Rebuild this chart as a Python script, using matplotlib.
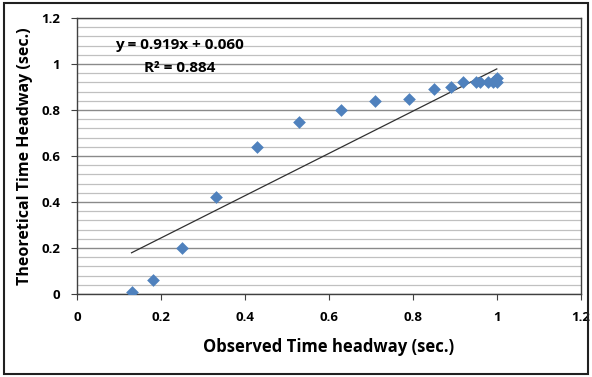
import matplotlib
matplotlib.use("Agg")
import matplotlib.pyplot as plt
from matplotlib.patches import Rectangle
import numpy as np

# observed vs theoretical headway (sec.)
observed = [0.13, 0.18, 0.25, 0.33, 0.43, 0.53, 0.63, 0.71, 0.79, 0.85,
            0.89, 0.92, 0.95, 0.96, 0.98, 0.99, 1.0, 1.0, 0.995]
theoretical = [0.01, 0.06, 0.20, 0.42, 0.64, 0.75, 0.80, 0.84, 0.85, 0.89,
               0.90, 0.92, 0.92, 0.92, 0.92, 0.92, 0.92, 0.94, 0.93]
slope = 0.919
intercept = 0.060
r2 = 0.884

plt.rcParams['font.family'] = ['Open Sans', 'DejaVu Sans']

fig = plt.figure(figsize=(5.92, 3.77), dpi=100)
ax = fig.add_axes([0.130, 0.220, 0.851, 0.732])

ax.set_xlim(0, 1.2)
ax.set_ylim(0, 1.2)
ax.set_xticks(np.arange(0, 1.21, 0.2))
ax.set_yticks(np.arange(0, 1.21, 0.2))
ax.set_yticks(np.arange(0, 1.2001, 0.04), minor=True)
labels = ["0", "0.2", "0.4", "0.6", "0.8", "1", "1.2"]
ax.set_xticklabels(labels, fontweight="bold", fontsize=9.5)
ax.set_yticklabels(labels, fontweight="bold", fontsize=9.5)
ax.tick_params(which="major", direction="out", length=4, color="#404040", pad=8)
ax.tick_params(axis="y", which="minor", length=0)
ax.grid(axis="y", which="minor", color="#c0c0c0", lw=0.9)
ax.grid(axis="y", which="major", color="#8a8a8a", lw=1.0)
ax.set_axisbelow(True)
for s in ax.spines.values():
    s.set_color("#404040")
    s.set_linewidth(1.0)

xs = np.array([min(observed), max(observed)])
ax.plot(xs, slope * xs + intercept, color="#303030", lw=0.9, zorder=2)
ax.scatter(observed, theoretical, marker="D", s=42, color="#4F81BD", zorder=3, linewidths=0)

ax.text(0.245, 1.085, f"y = {slope:.3f}x + {intercept:.3f}",
        fontsize=11, fontweight="bold", ha="center", va="center")
ax.text(0.245, 0.985, f"R\u00b2 = {r2:.3f}", fontsize=11, fontweight="bold",
        ha="center", va="center")

ax.set_xlabel("Observed Time headway (sec.)", fontsize=12, fontweight="bold", labelpad=10)
ax.set_ylabel("Theoretical Time Headway (sec.)", fontsize=11.5, fontweight="bold", labelpad=6)

fig.patches.append(Rectangle((0.006, 0.008), 0.988, 0.984, transform=fig.transFigure,
                             fill=False, edgecolor="#202020", lw=1.5))

fig.savefig("out.png", dpi=100)
